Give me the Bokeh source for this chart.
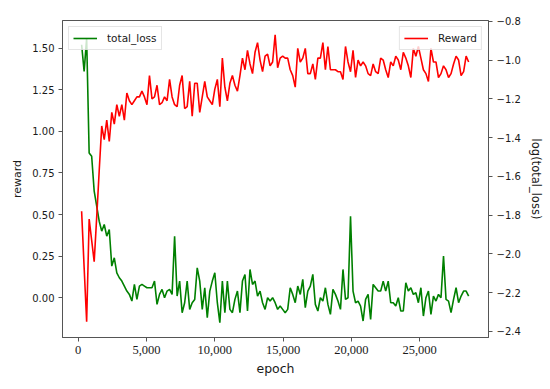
from bokeh.plotting import figure
from bokeh.models import (Range1d, LinearAxis, FixedTicker, NumeralTickFormatter,
                          CustomJSTickFormatter, Legend, LegendItem)
from bokeh.embed import file_html
from bokeh.resources import INLINE

# ---- data ----
epochs = list(range(250, 250 + 184 * 155, 184))

total_loss = [
    1.52, 1.36, 1.56, 0.87, 0.85, 0.64, 0.55, 0.46, 0.40, 0.44, 0.37, 0.41, 0.19, 0.24,
    0.15, 0.12, 0.10, 0.07, 0.04,
    0.02, -0.02, 0.08, -0.01, 0.07, 0.08, 0.07, 0.06, 0.06, 0.06, 0.10, -0.04, 0.02, 0.05,
    0.00, 0.04, 0.05, 0.02, 0.37,
    0.01, 0.10, -0.09, -0.03, 0.10, -0.07, -0.03, -0.01, 0.18, 0.10, -0.07, 0.06, -0.12,
    0.04, 0.10, 0.15, -0.03, -0.15, 0.10, -0.09, 0.10, -0.07, -0.09, -0.01, 0.04, -0.09,
    0.10, 0.14, -0.08, 0.17, 0.08, 0.10, 0.01, 0.04, -0.03, -0.07, 0.00, -0.02, 0.00,
    -0.03, -0.07, -0.05,
    -0.07, -0.09, -0.07, 0.06, 0.02, -0.03, 0.07, 0.02, 0.11, -0.06, 0.04, 0.07, 0.14,
    -0.04, -0.08, 0.00, -0.02, 0.06, -0.04, -0.10, 0.05, 0.02, -0.02, -0.07, 0.17, -0.01,
    0.00, 0.49, 0.04, -0.03, -0.02, -0.05, -0.14, -0.01, 0.02, -0.13, 0.08, 0.06, 0.04,
    0.04, 0.10, 0.04, 0.10, -0.03,
    -0.03, -0.05, 0.00, -0.08, -0.08, 0.09, 0.04, 0.06, 0.02, 0.03, -0.03, 0.06, -0.11,
    0.00, 0.04, -0.10, 0.01, -0.02, 0.02, 0.00, 0.25, -0.01, -0.02, -0.09, -0.01, 0.06,
    -0.03, 0.01, 0.04, 0.04, 0.01,
]

reward = [
    -1.78, -2.07, -2.35, -1.82, -1.93, -2.04, -1.81, -1.57, -1.34, -1.41, -1.31, -1.42,
    -1.27, -1.33, -1.23, -1.29, -1.23, -1.31, -1.17, -1.21, -1.23, -1.21, -1.19, -1.19,
    -1.16, -1.19, -1.23, -1.08, -1.20, -1.19, -1.13, -1.23, -1.22, -1.19, -1.21, -1.10,
    -1.19, -1.23,
    -1.24, -1.13, -1.08, -1.25, -1.24, -1.11, -1.29, -1.12, -1.12, -1.27, -1.19, -1.11,
    -1.19, -1.21, -1.23, -1.15, -1.10, -1.24, -0.99, -1.14, -1.21, -1.12, -1.08, -1.13,
    -1.16, -1.08, -0.99, -1.05, -0.95, -1.02, -1.07, -0.96, -0.91, -1.00, -1.06, -0.98,
    -0.97, -1.03, -1.01, -0.87, -1.04, -0.99, -0.98,
    -0.99, -0.99, -1.05, -1.08, -1.14, -0.94, -1.01, -0.99, -0.94, -1.07, -1.07, -1.02,
    -1.10, -0.99, -0.99, -0.91, -1.05, -0.93, -1.05, -1.05, -1.05, -1.06, -1.06, -1.10,
    -0.93, -1.01, -1.06, -0.95, -1.09, -1.00, -1.03, -1.01, -1.03, -1.07, -1.08, -1.02,
    -1.06, -1.07, -0.99, -1.00, -1.05, -1.09, -1.01,
    -1.03, -0.98, -1.00, -1.05, -0.96, -0.99, -1.03, -1.09, -0.94, -0.98, -0.93, -0.99,
    -1.05, -1.07, -1.11, -0.94, -1.01, -1.01, -1.09, -1.07, -1.03, -1.05, -1.09, -1.07,
    -1.02, -0.98, -1.00, -1.08, -1.06, -0.98, -1.01,
]

x_ticks = [0, 5000, 10000, 15000, 20000, 25000]
left_ticks = [0.0, 0.25, 0.5, 0.75, 1.0, 1.25, 1.5]
right_ticks = [-2.4, -2.2, -2.0, -1.8, -1.6, -1.4, -1.2, -1.0, -0.8]

SPINE = "#555555"
TEXT = "#1a1a1a"

W, H = 548, 387
p = figure(width=W, height=H,
           x_range=Range1d(-1150, 30040), y_range=Range1d(-0.239, 1.666),
           output_backend="svg", toolbar_location=None,
           min_border_left=62, min_border_right=W - 488,
           min_border_top=20, min_border_bottom=H - 337)
p.extra_y_ranges = {"right": Range1d(-2.431, -0.796)}
p.xgrid.visible = False
p.ygrid.visible = False
p.outline_line_color = SPINE
p.outline_line_width = 1
p.background_fill_color = "white"
p.border_fill_color = "white"

gl = p.line(epochs, total_loss, line_color="#008000", line_width=1.6)
rl = p.line(epochs, reward, line_color="#ff0000", line_width=1.6, y_range_name="right")

raxis = LinearAxis(y_range_name="right")
p.add_layout(raxis, "right")


def style(ax):
    ax.axis_line_color = SPINE
    ax.axis_line_width = 1
    ax.major_tick_line_color = SPINE
    ax.major_tick_out = 4
    ax.major_tick_in = 0
    ax.minor_tick_line_color = None
    ax.major_label_text_color = TEXT
    ax.major_label_text_font = "DejaVu Sans"
    ax.major_label_text_font_size = "10px"
    ax.axis_label_text_color = TEXT
    ax.axis_label_text_font = "DejaVu Sans"
    ax.axis_label_text_font_style = "normal"
    ax.major_label_standoff = 4


xa = p.xaxis[0]
ya = p.yaxis[0]
for ax in (xa, ya, raxis):
    style(ax)

xa.ticker = FixedTicker(ticks=x_ticks)
xa.formatter = NumeralTickFormatter(format="0,0")
xa.major_label_text_font = "Liberation Serif"
xa.major_label_text_font_size = "12.5px"
xa.axis_label = "epoch"
xa.axis_label_text_font_size = "12.5px"
xa.axis_label_standoff = 4

ya.ticker = FixedTicker(ticks=left_ticks)
ya.formatter = NumeralTickFormatter(format="0.00")
ya.axis_label = "reward"
ya.axis_label_text_font_size = "11px"
ya.axis_label_standoff = 5

raxis.ticker = FixedTicker(ticks=right_ticks)
raxis.formatter = CustomJSTickFormatter(code="return tick.toFixed(1).replace('-', '\u2212');")
raxis.axis_label = "log(total_loss)"
raxis.axis_label_text_font_size = "11.5px"
raxis.axis_label_standoff = 5


def make_legend(label, rend, loc):
    lg = Legend(items=[LegendItem(label=label, renderers=[rend])], location=loc)
    lg.margin = 6
    lg.padding = 4
    lg.spacing = 0
    lg.glyph_width = 24
    lg.glyph_height = 14
    lg.label_height = 14
    lg.label_standoff = 10
    lg.label_text_font = "DejaVu Sans"
    lg.label_text_font_size = "10.5px"
    lg.label_text_color = TEXT
    lg.border_line_color = "#cccccc"
    lg.border_line_width = 1
    lg.background_fill_color = "white"
    lg.background_fill_alpha = 0.8
    return lg


p.add_layout(make_legend("total_loss", gl, "top_left"), "center")
p.add_layout(make_legend("Reward", rl, "top_right"), "center")

open("out.html", "w").write(file_html(p, INLINE))
